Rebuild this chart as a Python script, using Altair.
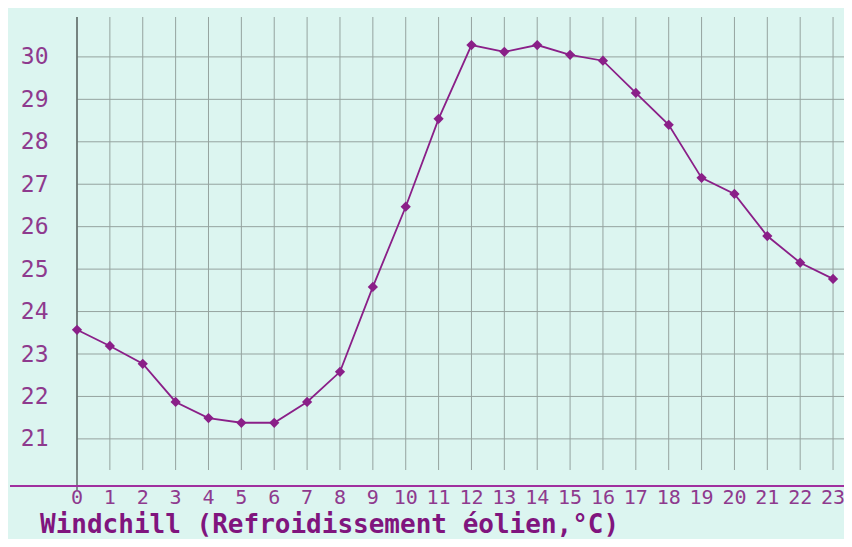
import altair as alt
import pandas as pd

hours = list(range(24))
windchill = [23.57, 23.19, 22.77, 21.87, 21.49, 21.38, 21.38, 21.87, 22.58, 24.58,
             26.47, 28.54, 30.28, 30.12, 30.28, 30.05, 29.91, 29.15, 28.40, 27.15,
             26.77, 25.78, 25.15, 24.77]
y_ticks = list(range(21, 31))
title_text = "Windchill (Refroidissement éolien,°C)"

W, H = 760, 469
X_DOM = [0, 23.12]
Y_DOM = [19.89, 30.94]

df = pd.DataFrame({"h": hours, "v": windchill})
hgrid = pd.DataFrame({"v": y_ticks})
vgrid = pd.DataFrame({"h": hours, "lab": [str(h) for h in hours]})
one = pd.DataFrame({"t": [title_text]})

xs = alt.Scale(domain=X_DOM, nice=False, zero=False)
ys = alt.Scale(domain=Y_DOM, nice=False, zero=False)

PURPLE = "#8a1f88"
LABEL = "#8e3a8e"
GRID = "#95a39f"

y_axis = alt.Axis(values=y_ticks, domain=False, ticks=False, grid=False,
                  labelFont="DejaVu Sans Mono", labelFontSize=23, labelColor=LABEL,
                  labelPadding=29, title=None)

h_rules = alt.Chart(hgrid).mark_rule(color=GRID, strokeWidth=1).encode(
    y=alt.Y("v:Q", scale=ys, axis=y_axis),
    x=alt.value(0), x2=alt.value(W + 10),
)
v_rules = alt.Chart(vgrid).mark_rule(color=GRID, strokeWidth=1).encode(
    x=alt.X("h:Q", scale=xs, axis=None),
    y=alt.value(0), y2=alt.value(453),
)
x_labels = alt.Chart(vgrid).mark_text(
    font="DejaVu Sans Mono", fontSize=20, color=LABEL, baseline="top", align="center"
).encode(
    x=alt.X("h:Q", scale=xs, axis=None),
    y=alt.value(H + 2),
    text="lab:N",
)
left_axis = alt.Chart(one).mark_rule(color="#5f6b68", strokeWidth=1.5).encode(
    x=alt.value(0), y=alt.value(0), y2=alt.value(473)
)
bottom_axis = alt.Chart(one).mark_rule(color="#a0309f", strokeWidth=2).encode(
    y=alt.value(H), x=alt.value(-67), x2=alt.value(W + 10)
)
line = alt.Chart(df).mark_line(color=PURPLE, strokeWidth=1.8, clip=False).encode(
    x=alt.X("h:Q", scale=xs, axis=None),
    y=alt.Y("v:Q", scale=ys, axis=y_axis),
)
points = alt.Chart(df).mark_point(shape="diamond", filled=True, color=PURPLE,
                                   size=105, opacity=1, clip=False).encode(
    x=alt.X("h:Q", scale=xs, axis=None),
    y=alt.Y("v:Q", scale=ys, axis=y_axis),
)
title = alt.Chart(one).mark_text(
    font="DejaVu Sans Mono", fontWeight="bold", fontSize=26,
    color="#80157e", align="left", baseline="alphabetic",
).encode(x=alt.value(-37), y=alt.value(516), text="t:N")

chart = alt.layer(h_rules, v_rules, left_axis, bottom_axis, line, points, x_labels, title).properties(
    width=W, height=H,
    autosize=alt.AutoSizeParams(type="none"),
    padding={"left": 69, "top": 9, "right": 7, "bottom": 53},
    background="#dcf5f0",
).configure_view(stroke=None)

chart.save("out.html", embed_options={"renderer": "svg", "actions": False})
